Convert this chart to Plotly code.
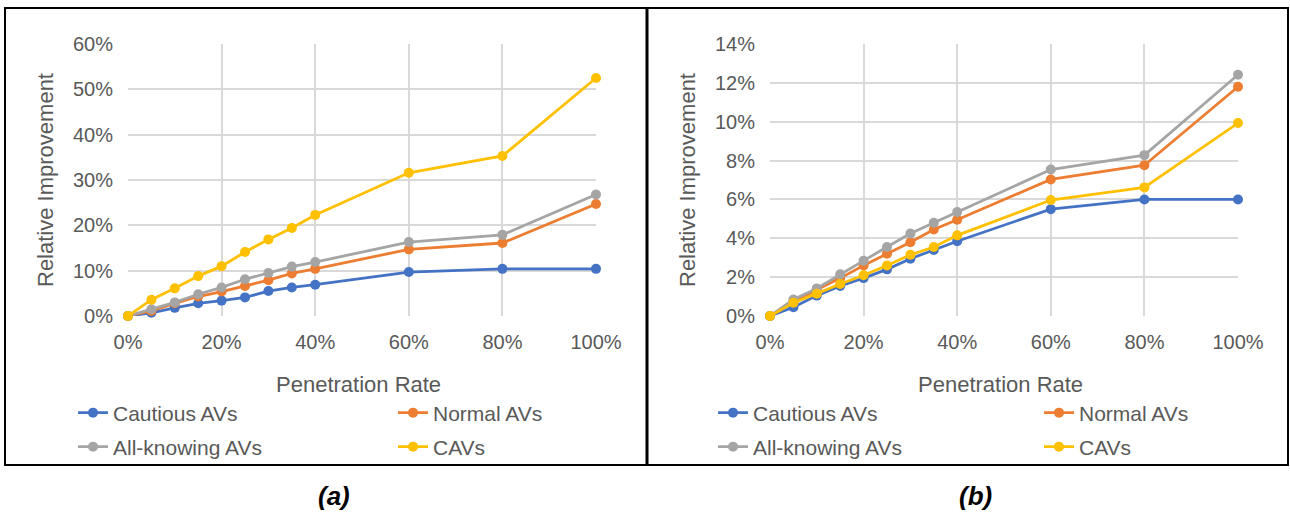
import plotly.graph_objects as go

# ---------------- data ----------------
penetration = [0, 5, 10, 15, 20, 25, 30, 35, 40, 60, 80, 100]

a_cautious = [0, 0.7, 1.8, 2.8, 3.4, 4.1, 5.5, 6.3, 6.9, 9.7, 10.4, 10.4]
a_normal = [0, 1.1, 2.8, 4.3, 5.4, 6.6, 7.9, 9.4, 10.4, 14.7, 16.1, 24.7]
a_allknow = [0, 1.5, 3.0, 4.8, 6.3, 8.1, 9.5, 10.9, 11.9, 16.3, 17.9, 26.8]
a_cavs = [0, 3.6, 6.1, 8.8, 11.0, 14.1, 16.9, 19.4, 22.3, 31.6, 35.3, 52.5]

b_cautious = [0, 0.45, 1.05, 1.55, 1.95, 2.4, 2.95, 3.4, 3.85, 5.5, 6.0, 6.0]
b_normal = [0, 0.72, 1.35, 1.95, 2.6, 3.2, 3.8, 4.45, 4.95, 7.03, 7.76, 11.8]
b_allknow = [0, 0.85, 1.42, 2.15, 2.85, 3.55, 4.25, 4.8, 5.35, 7.54, 8.28, 12.42]
b_cavs = [0, 0.68, 1.15, 1.65, 2.1, 2.6, 3.15, 3.55, 4.15, 5.97, 6.62, 9.93]

series_names = ["Cautious AVs", "Normal AVs", "All-knowing AVs", "CAVs"]
series_colors = ["#4472C4", "#ED7D31", "#A5A5A5", "#FFC000"]

x_ticks = [0, 20, 40, 60, 80, 100]
x_tick_labels = ["0%", "20%", "40%", "60%", "80%", "100%"]
a_y_ticks = [0, 10, 20, 30, 40, 50, 60]
b_y_ticks = [0, 2, 4, 6, 8, 10, 12, 14]
panel_labels = ["(a)", "(b)"]
x_title = "Penetration Rate"
y_title = "Relative Improvement"

W, H = 1290, 518
FONT = "Liberation Sans, Arial, sans-serif"
TXT = "#595959"

fig = go.Figure()

panels = [
    dict(data=[a_cautious, a_normal, a_allknow, a_cavs], xa="x", ya="y",
         leg_x=[73, 393], leg_base=1, xt_cx=358, yt_cx=46),
    dict(data=[b_cautious, b_normal, b_allknow, b_cavs], xa="x2", ya="y2",
         leg_x=[713, 1039], leg_base=5, xt_cx=1000, yt_cx=688),
]

leg_rows_y = [413, 447]
legends = {}
for p in panels:
    for i, (name, col, vals) in enumerate(zip(series_names, series_colors, p["data"])):
        lg_idx = p["leg_base"] + i
        lg_key = "legend" if lg_idx == 1 else f"legend{lg_idx}"
        fig.add_trace(go.Scatter(
            x=penetration, y=vals, name=name, mode="lines+markers",
            line=dict(color=col, width=2.8),
            marker=dict(color=col, size=10),
            xaxis=p["xa"], yaxis=p["ya"],
            legend=lg_key, cliponaxis=False,
        ))
        lx = p["leg_x"][i % 2]
        ly = leg_rows_y[i // 2]
        legends[lg_key] = dict(
            x=lx / W, y=1 - ly / H, xanchor="left", yanchor="middle",
            bgcolor="rgba(0,0,0,0)", font=dict(family=FONT, size=21, color=TXT),
            itemwidth=30, tracegroupgap=0, borderwidth=0,
        )
    fig.add_annotation(text=x_title, xref="paper", yref="paper",
                       x=p["xt_cx"] / W, y=1 - 384 / H, showarrow=False,
                       font=dict(family=FONT, size=22, color=TXT),
                       xanchor="center", yanchor="middle")
    fig.add_annotation(text=y_title, xref="paper", yref="paper",
                       x=p["yt_cx"] / W, y=1 - 180 / H, showarrow=False, textangle=-90,
                       font=dict(family=FONT, size=22, color=TXT),
                       xanchor="center", yanchor="middle")

fig.update_layout(**legends)

axis_common = dict(
    showgrid=True, gridcolor="#D9D9D9", gridwidth=1.5,
    zeroline=False, showline=False, ticks="", automargin=False,
    tickfont=dict(family=FONT, size=20, color=TXT),
)

x_dom_a = [128 / W, 596 / W]
x_dom_b = [770 / W, 1238 / W]
y_dom = [1 - 316 / H, 1 - 44 / H]

fig.update_layout(
    width=W, height=H,
    margin=dict(l=0, r=0, t=0, b=0, pad=0, autoexpand=False),
    paper_bgcolor="white", plot_bgcolor="white",
    showlegend=True,
    xaxis=dict(domain=x_dom_a, range=[0, 100], tickvals=x_ticks, ticktext=x_tick_labels,
               ticklabelstandoff=12, anchor="y", **axis_common),
    yaxis=dict(domain=y_dom, range=[0, 60], tickvals=a_y_ticks,
               ticktext=[f"{v}%" for v in a_y_ticks],
               ticklabelstandoff=14, anchor="x", **axis_common),
    xaxis2=dict(domain=x_dom_b, range=[0, 100], tickvals=x_ticks, ticktext=x_tick_labels,
                ticklabelstandoff=12, anchor="y2", **axis_common),
    yaxis2=dict(domain=y_dom, range=[0, 14], tickvals=b_y_ticks,
                ticktext=[f"{v}%" for v in b_y_ticks],
                ticklabelstandoff=14, anchor="x2", **axis_common),
)

# panel boxes
for x0, x1 in [(5, 647), (647, 1288)]:
    fig.add_shape(type="rect", xref="paper", yref="paper",
                  x0=x0 / W, x1=x1 / W, y0=1 - 465 / H, y1=1 - 8 / H,
                  line=dict(color="black", width=2), fillcolor="rgba(0,0,0,0)", layer="below")
fig.add_shape(type="line", xref="paper", yref="paper",
              x0=647 / W, x1=647 / W, y0=1 - 465 / H, y1=1 - 8 / H,
              line=dict(color="black", width=3))

for lbl, cx in zip(panel_labels, [334, 975]):
    fig.add_annotation(text=f"<b><i>{lbl}</i></b>", xref="paper", yref="paper",
                       x=cx / W, y=1 - 496 / H, showarrow=False,
                       font=dict(family=FONT, size=26, color="black"),
                       xanchor="center", yanchor="middle")

fig.write_html("out.html",
               config={"displayModeBar": False},
               post_script="document.body.style.margin='0px';"
                           "document.documentElement.style.overflow='hidden';")
